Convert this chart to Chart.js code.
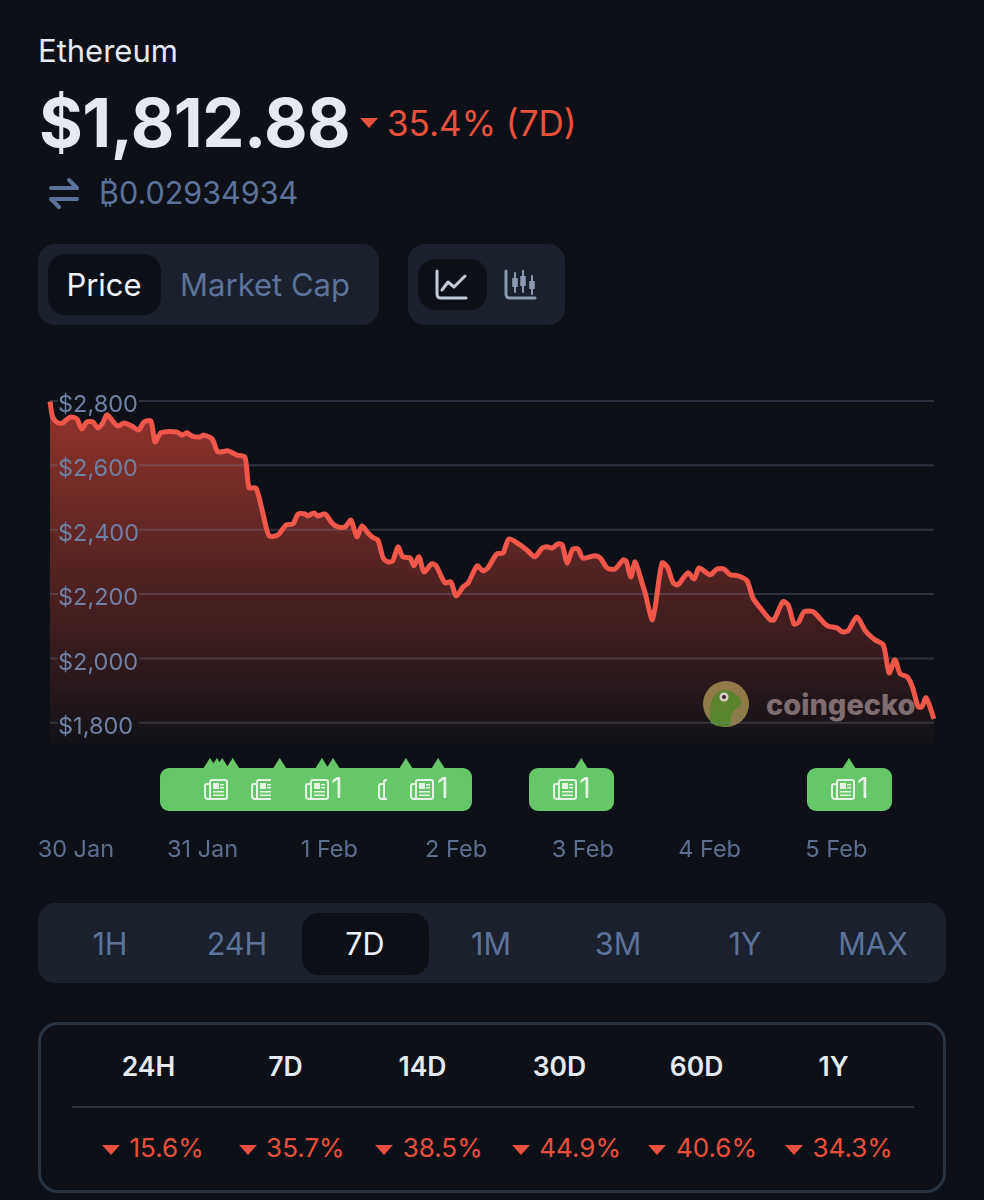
<!DOCTYPE html>
<html>
<head>
<meta charset="utf-8">
<title>Ethereum</title>
<script src="https://cdn.jsdelivr.net/npm/chart.js@4"></script>
<style>
  html, body { margin: 0; padding: 0; background: #0d1117; }
  body { width: 984px; height: 1200px; position: relative; overflow: hidden; font-family: Inter, sans-serif; }
  .t { position: absolute; white-space: nowrap; line-height: 1; }
  .c { transform: translate(-50%, -50%); }
  .m { transform: translateY(-50%); }
  .box { position: absolute; box-sizing: border-box; }
  .panel { background: #1b212c; border-radius: 17px; }
  .active { background: #0d1117; border-radius: 17px; }
  .slate { color: #5d7298; }
  .red { color: #e9503f; }
  svg { position: absolute; overflow: visible; }
  canvas { position: absolute; left: 0; top: 0; }
</style>
</head>
<body>
<div class="t m" style="left:38px;top:50px;font-size:31px;color:#e6e9ef">Ethereum</div>
<div class="t m" style="left:39px;top:122px;font-size:67px;font-weight:700;letter-spacing:-.5px;color:#e5e9f0">$1,812.88</div>
<svg style="left:360px;top:118px" width="18" height="11"><path d="M0 0H18L9 10Z" fill="#e9503f"/></svg>
<div class="t m red" style="left:387px;top:123px;font-size:35px">35.4% (7D)</div>
<svg style="left:50px;top:178px" width="28" height="30" fill="none" stroke="#5d7298" stroke-width="4" stroke-linecap="round" stroke-linejoin="round"><path d="M1 10H27M19 2L27 10M27 21H1M9 29L1 21"/></svg>
<div class="t m slate" style="left:99px;top:193px;font-size:30.5px">₿0.02934934</div>

<div class="box panel" style="left:38px;top:244px;width:341px;height:81px"></div>
<div class="box active" style="left:48px;top:254px;width:113px;height:61px"></div>
<div class="t c" style="left:104px;top:284px;font-size:31px;color:#eef1f5">Price</div>
<div class="t c slate" style="left:265px;top:284px;font-size:31px">Market Cap</div>
<div class="box panel" style="left:408px;top:244px;width:157px;height:81px"></div>
<div class="box active" style="left:418px;top:259px;width:69px;height:51px"></div>
<svg style="left:436px;top:270px" width="32" height="30" fill="none" stroke="#c3cbd8" stroke-width="3" stroke-linecap="round" stroke-linejoin="round"><path d="M1 1V24Q1 28 5 28H30M6 20L12 12L18 17L29 6"/></svg>
<svg style="left:505px;top:270px" width="32" height="30" fill="none" stroke="#8e9ab0" stroke-width="3" stroke-linecap="round"><path d="M1 1V24Q1 28 5 28H30"/><path d="M10 3V22M18 1V22M27 6V24" stroke-width="2"/><path d="M10 8V17M18 6V16M27 11V19" stroke-width="5.5" stroke-linecap="butt"/></svg>

<!-- watermark sits under the canvas so the line passes over it -->
<svg style="left:703px;top:681px" width="46" height="46"><circle cx="23" cy="23" r="23" fill="#85804a"/><path d="M8 42Q4 22 14 12Q24 4 36 16Q42 24 32 28Q26 34 28 44Q16 48 8 42Z" fill="#4f8a2c"/><circle cx="21" cy="16" r="4.5" fill="#d8d8d8"/><circle cx="21" cy="16" r="2" fill="#222"/></svg>
<div class="t m" style="left:766px;top:704px;font-size:29px;font-weight:800;color:#767174">coingecko</div>

<canvas id="priceChart" width="984" height="880"></canvas>

<div class="box panel" style="left:38px;top:903px;width:908px;height:80px"></div>
<div class="box active" style="left:302px;top:913px;width:127px;height:62px"></div>
<div id="rangeTabs"></div>

<div class="box" style="left:38px;top:1022px;width:908px;height:171px;border:3px solid #2a3342;border-radius:20px"></div>
<div class="box" style="left:72px;top:1106px;width:842px;height:2px;background:#2a3342"></div>
<div id="changeTable"></div>

<script>
// hours since 30 Jan 00:00
const hours = [-4.9, -4.4, -3.4, -2.5, -1.1, 0.2, 1.1, 2.1, 3.2, 4.2, 5.1, 5.9, 7.4, 8.1, 9.1, 10.6, 11.9, 12.9, 14.2, 15.0, 16.1, 19.1, 20.1, 21.0, 22.0, 23.5, 24.2, 25.8, 26.9, 28.8, 30.5, 32.0, 32.8, 34.1, 35.4, 36.6, 38.3, 39.8, 41.1, 42.1, 43.4, 43.9, 45.1, 45.8, 47.2, 48.5, 49.6, 51.0, 52.1, 53.2, 54.2, 55.3, 56.3, 57.2, 58.2, 59.1, 60.0, 61.0, 61.9, 63.3, 64.0, 65.0, 65.9, 67.4, 68.2, 69.9, 71.0, 72.0, 73.3, 74.3, 76.0, 77.1, 78.0, 79.7, 80.9, 82.0, 84.1, 85.4, 86.9, 88.3, 89.2, 90.2, 91.3, 92.1, 93.0, 94.1, 95.1, 96.0, 98.3, 99.3, 100.6, 102.1, 103.6, 104.2, 105.1, 105.9, 107.2, 107.8, 109.1, 109.7, 111.0, 112.0, 113.1, 114.0, 115.9, 117.1, 118.0, 120.1, 121.4, 122.7, 123.9, 125.4, 127.1, 128.2, 129.6, 131.5, 132.2, 133.9, 134.9, 136.0, 136.8, 137.9, 139.6, 141.3, 142.4, 144.1, 145.1, 146.2, 147.9, 149.5, 151.3, 152.9, 154.0, 155.1, 156.1, 157.4, 158.4, 159.5, 160.2, 161.0, 162.5];
const prices = [2798, 2751, 2732, 2732, 2750, 2744, 2713, 2735, 2735, 2716, 2732, 2757, 2729, 2722, 2732, 2722, 2710, 2735, 2738, 2673, 2701, 2704, 2694, 2701, 2691, 2688, 2694, 2682, 2642, 2645, 2632, 2626, 2530, 2530, 2452, 2381, 2384, 2415, 2418, 2449, 2449, 2443, 2452, 2443, 2449, 2421, 2409, 2409, 2430, 2378, 2412, 2390, 2375, 2368, 2312, 2300, 2303, 2347, 2316, 2312, 2288, 2316, 2269, 2294, 2288, 2235, 2238, 2194, 2222, 2235, 2288, 2272, 2281, 2325, 2328, 2371, 2353, 2337, 2316, 2343, 2347, 2343, 2356, 2353, 2297, 2340, 2340, 2312, 2319, 2312, 2281, 2278, 2306, 2303, 2253, 2300, 2235, 2204, 2120, 2160, 2297, 2284, 2235, 2229, 2266, 2247, 2281, 2260, 2278, 2278, 2260, 2257, 2241, 2188, 2157, 2120, 2120, 2176, 2166, 2107, 2111, 2145, 2145, 2117, 2101, 2095, 2083, 2086, 2129, 2086, 2058, 2042, 1955, 1996, 1952, 1943, 1912, 1850, 1850, 1878, 1812];

const priceTicks = [1800, 2000, 2200, 2400, 2600, 2800];
const dayTicks = [0, 24, 48, 72, 96, 120, 144];
const dayLabels = ['30 Jan', '31 Jan', '1 Feb', '2 Feb', '3 Feb', '4 Feb', '5 Feb'];

// news pointers on the time axis
const newsHours = [25.4, 26.7, 27.7, 29.7, 38.6, 46.6, 48.7, 62.5, 68.6, 95.7, 146.4];

const rangeNames = ['1H', '24H', '7D', '1M', '3M', '1Y', 'MAX'];
const changePeriods = ['24H', '7D', '14D', '30D', '60D', '1Y'];
const changeValues = ['15.6%', '35.7%', '38.5%', '44.9%', '40.6%', '34.3%'];

// page text below the chart
const rangeCentres = [110, 237, 365, 491, 618, 745, 873];
rangeNames.forEach((name, i) => {
  const el = document.createElement('div');
  el.className = 't c' + (name === '7D' ? '' : ' slate');
  el.style.cssText = `left:${rangeCentres[i]}px;top:944px;font-size:30.5px;` + (name === '7D' ? 'color:#eef1f5' : '');
  el.textContent = name;
  document.getElementById('rangeTabs').appendChild(el);
});

const table = document.getElementById('changeTable');
changePeriods.forEach((name, i) => {
  const cx = 148.5 + i * 137;
  const head = document.createElement('div');
  head.className = 't c';
  head.style.cssText = `left:${cx}px;top:1066px;font-size:26.5px;font-weight:600;color:#e5e9f0`;
  head.textContent = name;
  table.appendChild(head);
  const val = document.createElement('div');
  val.className = 't m red';
  val.style.cssText = `left:${129.5 + i * 136.6}px;top:1148px;font-size:26px`;
  val.textContent = changeValues[i];
  table.appendChild(val);
  const tri = document.createElementNS('http://www.w3.org/2000/svg', 'svg');
  tri.setAttribute('width', 18);
  tri.setAttribute('height', 11);
  tri.style.left = (102 + i * 136.6) + 'px';
  tri.style.top = '1145px';
  tri.innerHTML = '<path d="M0 0H18L9 10Z" fill="#e9503f"/>';
  table.appendChild(tri);
});

const green = '#66c768';
const iconColor = '#e4f4e2';

function drawNewsIcon(ctx, x, y, clipWidth) {
  ctx.save();
  ctx.beginPath();
  ctx.rect(x - 1, y - 2, clipWidth + 1, 24);
  ctx.clip();
  ctx.strokeStyle = iconColor;
  ctx.fillStyle = iconColor;
  ctx.lineWidth = 2;
  ctx.beginPath();
  ctx.roundRect(x + 5, y, 17, 19, 2);
  ctx.moveTo(x + 5, y + 4);
  ctx.lineTo(x + 2, y + 4);
  ctx.quadraticCurveTo(x, y + 4, x, y + 6);
  ctx.lineTo(x, y + 16);
  ctx.quadraticCurveTo(x, y + 19, x + 3, y + 19);
  ctx.lineTo(x + 6, y + 19);
  ctx.stroke();
  ctx.fillRect(x + 8, y + 3, 6, 6);
  ctx.fillRect(x + 15, y + 4, 4, 1.5);
  ctx.fillRect(x + 15, y + 7, 4, 1.5);
  ctx.fillRect(x + 8, y + 11, 11, 1.5);
  ctx.fillRect(x + 8, y + 14.5, 11, 1.5);
  ctx.restore();
}

// grid lines stop behind the mirrored price labels
const gridPlugin = {
  id: 'gridPlugin',
  beforeDatasetDraw(chart) {
    const { ctx, chartArea, scales } = chart;
    ctx.save();
    ctx.strokeStyle = 'rgba(125,140,175,0.27)';
    ctx.lineWidth = 2;
    priceTicks.forEach(v => {
      const y = scales.y.getPixelForValue(v);
      ctx.beginPath();
      ctx.moveTo(chartArea.left, y);
      ctx.lineTo(chartArea.left + 8, y);
      ctx.moveTo(chartArea.left + 89, y);
      ctx.lineTo(chartArea.right, y);
      ctx.stroke();
    });
    ctx.restore();
  }
};

const newsPlugin = {
  id: 'newsPlugin',
  afterDraw(chart) {
    const { ctx, scales } = chart;
    const top = 768, h = 43;
    ctx.save();
    ctx.fillStyle = green;
    newsHours.forEach(t => {
      const x = scales.x.getPixelForValue(t);
      ctx.beginPath();
      ctx.moveTo(x - 7, top + 1);
      ctx.lineTo(x, top - 10);
      ctx.lineTo(x + 7, top + 1);
      ctx.fill();
    });
    [[160, 312], [529, 85], [807, 85]].forEach(([x, w]) => {
      ctx.beginPath();
      ctx.roundRect(x, top, w, h, 9);
      ctx.fill();
    });
    drawNewsIcon(ctx, 205, 780, 24);
    drawNewsIcon(ctx, 252, 780, 19);
    drawNewsIcon(ctx, 306, 780, 24);
    drawNewsIcon(ctx, 379, 780, 8);
    drawNewsIcon(ctx, 411, 780, 24);
    drawNewsIcon(ctx, 554, 780, 24);
    drawNewsIcon(ctx, 832, 780, 24);
    ctx.fillStyle = iconColor;
    ctx.font = '28px Inter';
    ctx.textAlign = 'center';
    ctx.textBaseline = 'middle';
    [337, 443, 585, 863].forEach(x => ctx.fillText('1', x, 790));
    ctx.restore();
  }
};

const chart = new Chart(document.getElementById('priceChart').getContext('2d'), {
  type: 'line',
  data: {
    datasets: [{
      data: hours.map((h, i) => ({ x: h, y: prices[i] })),
      borderColor: '#f0574a',
      borderWidth: 5,
      pointRadius: 0,
      tension: 0.25,
      clip: false,
      fill: 'start',
      backgroundColor(context) {
        const area = context.chart.chartArea;
        if (!area) return 'transparent';
        const g = context.chart.ctx.createLinearGradient(0, area.top, 0, area.bottom);
        g.addColorStop(0, 'rgba(240,75,60,0.6)');
        g.addColorStop(1, 'rgba(240,75,60,0)');
        return g;
      }
    }]
  },
  options: {
    responsive: false,
    animation: false,
    layout: { padding: { top: 401, left: 50, right: 50, bottom: 0 } },
    plugins: { legend: { display: false }, tooltip: { enabled: false } },
    scales: {
      x: {
        type: 'linear',
        min: hours[0],
        max: hours[hours.length - 1],
        grid: { display: false },
        border: { display: false },
        afterBuildTicks: axis => { axis.ticks = dayTicks.map(value => ({ value })); },
        // the first label hangs left of the plot, keep the plot where it is
        afterFit: axis => { axis.height = 125; axis.paddingLeft = 0; axis.paddingRight = 0; },
        ticks: {
          autoSkip: false,
          maxRotation: 0,
          padding: 73,
          color: '#5d6f8f',
          font: { family: 'Inter', size: 23.5 },
          callback: value => dayLabels[dayTicks.indexOf(value)]
        }
      },
      y: {
        min: 1700,
        max: 2800,
        grid: { display: false },
        border: { display: false },
        afterBuildTicks: axis => { axis.ticks = priceTicks.map(value => ({ value })); },
        afterFit: axis => { axis.width = 0; },
        ticks: {
          mirror: true,
          padding: 8,
          z: 1,
          labelOffset: 4,
          color: '#6f80a3',
          font: { family: 'Inter', size: 23.5 },
          callback: value => '$' + value.toLocaleString('en-US')
        }
      }
    }
  },
  plugins: [gridPlugin, newsPlugin]
});
</script>
</body>
</html>
